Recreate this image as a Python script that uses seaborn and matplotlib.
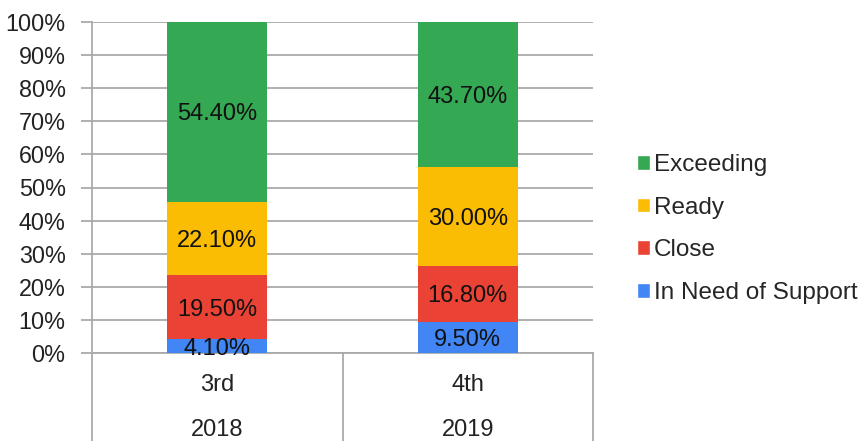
import matplotlib
matplotlib.use("Agg")
import matplotlib.pyplot as plt
import seaborn as sns
import pandas as pd
from matplotlib.patches import Patch

grades = ["3rd", "4th"]
years = ["2018", "2019"]
levels = ["In Need of Support", "Close", "Ready", "Exceeding"]
need = [4.1, 9.5]
close = [19.5, 16.8]
ready = [22.1, 30.0]
exceeding = [54.4, 43.7]
colors = {"In Need of Support": "#4285F4", "Close": "#EA4335",
          "Ready": "#FBBC04", "Exceeding": "#34A853"}

sns.set_theme(style="white")
plt.rcParams["font.family"] = ["Liberation Sans", "DejaVu Sans"]

df = pd.DataFrame({"grade": grades, "In Need of Support": need, "Close": close,
                   "Ready": ready, "Exceeding": exceeding})
cum = df[levels].cumsum(axis=1)

fig = plt.figure(figsize=(8.63, 4.41), dpi=100)
W, H = 863, 441
ax = fig.add_axes([92 / W, (H - 353) / H, (593 - 92) / W, 331 / H])

# draw tallest stack first so smaller ones sit on top
for lvl in reversed(levels):
    sns.barplot(x=df["grade"], y=cum[lvl], color=colors[lvl], width=0.4,
                saturation=1, ax=ax, zorder=3, edgecolor="none", linewidth=0)

# segment labels
for i in range(len(grades)):
    base = 0
    for lvl in levels:
        v = df.loc[i, lvl]
        ax.text(i, base + v / 2 - 0.8, f"{v:.2f}%", ha="center", va="center",
                fontsize=17, color="#111111", zorder=4)
        base += v

ax.set_ylim(0, 100)
ax.set_xlim(-0.5, 1.5)
ax.set_yticks(range(0, 101, 10))
ax.set_yticklabels([f"{t}%" for t in range(0, 101, 10)], fontsize=16.8, color="#222222")
ax.set_xticks([])
ax.set_xlabel("")
ax.set_ylabel("")
ax.yaxis.grid(True, color="#aaaaaa", linewidth=1.3, zorder=0)
ax.tick_params(axis="y", length=8, width=1.3, color="#aaaaaa", pad=11, left=True)
for s in ["top", "right"]:
    ax.spines[s].set_visible(False)
for s in ["left", "bottom"]:
    ax.spines[s].set_color("#aaaaaa")
    ax.spines[s].set_linewidth(1.3)

# multi-level category axis
depth = -88 / 331
for xv in [0, 0.5, 1]:
    ax.plot([xv, xv], [0, depth], transform=ax.transAxes, color="#aaaaaa",
            linewidth=1.3, clip_on=False)
for i, (g, y) in enumerate(zip(grades, years)):
    xc = (i + 0.5) / len(grades)
    ax.text(xc, -32 / 331, g, transform=ax.transAxes, ha="center", va="center",
            fontsize=17, color="#222222")
    ax.text(xc, -77 / 331, y, transform=ax.transAxes, ha="center", va="center",
            fontsize=17, color="#222222")

handles = [Patch(facecolor=colors[l], label=l) for l in reversed(levels)]
fig.legend(handles=handles, loc="center left", bbox_to_anchor=(627 / W, 1 - 229 / H),
           frameon=False, fontsize=17.5, handlelength=0.55, handleheight=0.55,
           handletextpad=0.15, labelspacing=0.85, borderaxespad=0)

fig.savefig("out.png", dpi=100)
